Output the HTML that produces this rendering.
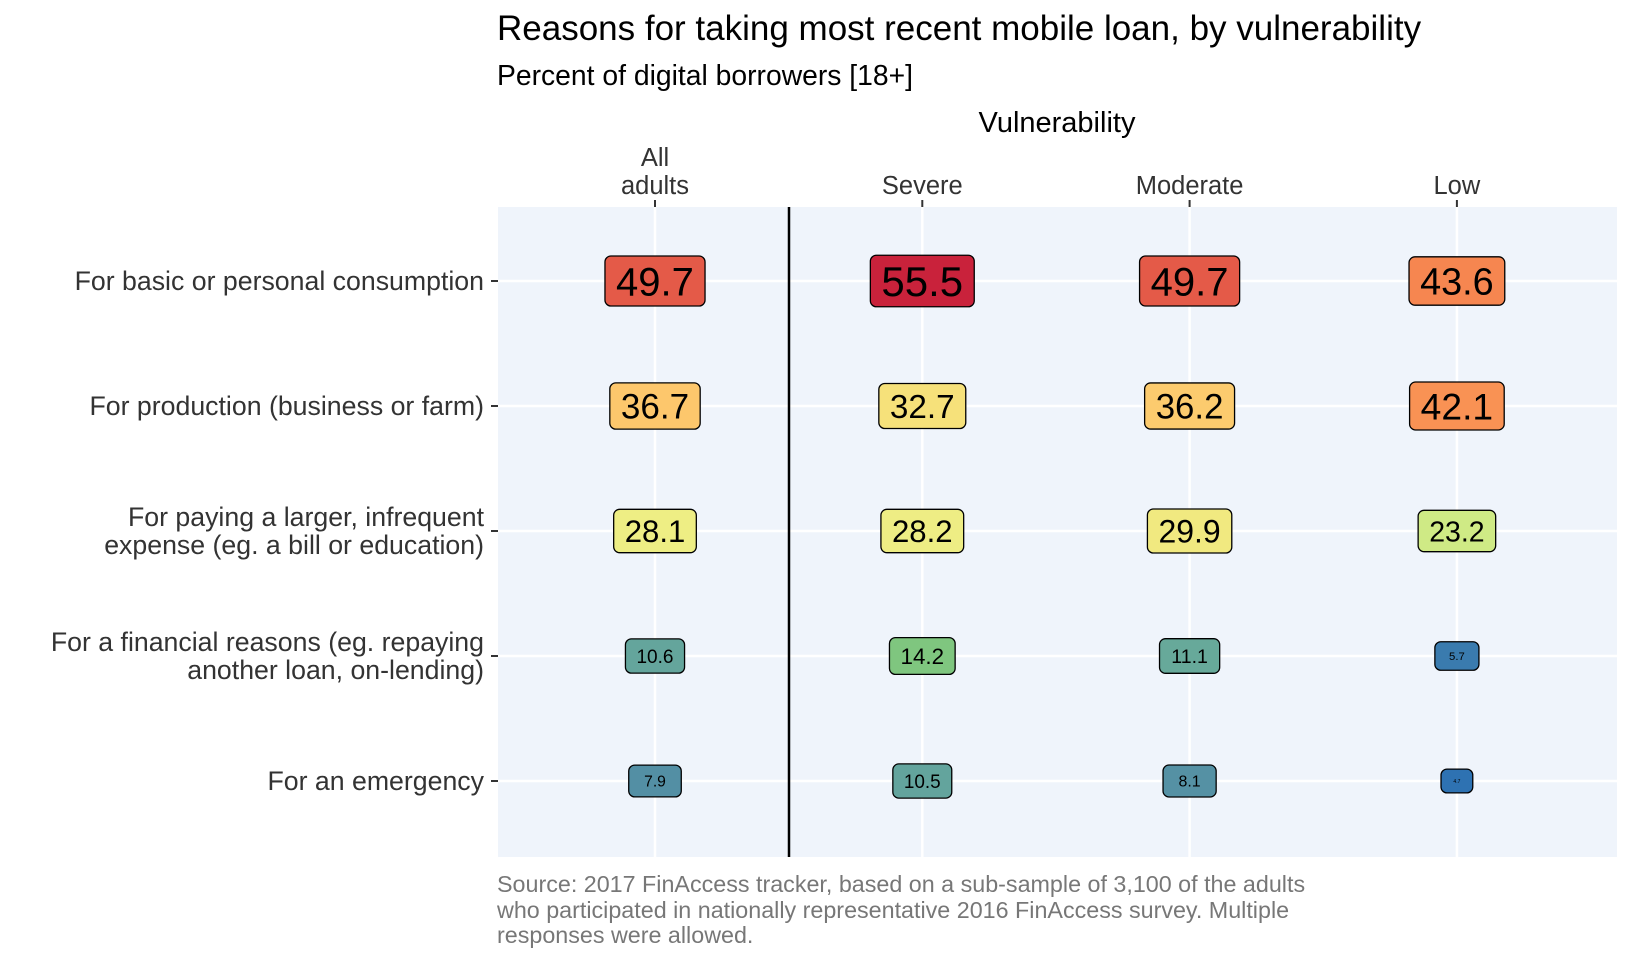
<!DOCTYPE html>
<html><head><meta charset="utf-8"><style>
body{margin:0;background:#fff;}
svg text{font-family:"Liberation Sans",Arial,sans-serif;}
</style></head><body>
<svg width="1632" height="960" viewBox="0 0 1632 960">
<text x="497" y="40" font-size="35" fill="#000">Reasons for taking most recent mobile loan, by vulnerability</text>
<text x="497" y="85" font-size="28.3" fill="#000">Percent of digital borrowers [18+]</text>
<text x="1057" y="132" font-size="29" text-anchor="middle" fill="#000">Vulnerability</text>
<rect x="498" y="207" width="1119" height="650" fill="#eff4fb"/>
<g id="grid"></g>
<g id="axes"></g>
<line x1="789" y1="207" x2="789" y2="857" stroke="#000" stroke-width="2.5"/>
<g id="marks"></g>
<text font-size="23.3" fill="#777">
<tspan x="497" y="892">Source: 2017 FinAccess tracker, based on a sub-sample of 3,100 of the adults</tspan>
<tspan x="497" y="918">who participated in nationally representative 2016 FinAccess survey. Multiple</tspan>
<tspan x="497" y="943">responses were allowed.</tspan>
</text>
</svg>
<script>
const columns=[["All","adults"],["Severe"],["Moderate"],["Low"]];
const reasons=[["For basic or personal consumption"],["For production (business or farm)"],["For paying a larger, infrequent","expense (eg. a bill or education)"],["For a financial reasons (eg. repaying","another loan, on-lending)"],["For an emergency"]];
const allAdults=[49.7,36.7,28.1,10.6,7.9];
const severe=[55.5,32.7,28.2,14.2,10.5];
const moderate=[49.7,36.2,29.9,11.1,8.1];
const low=[43.6,42.1,23.2,5.7,4.7];
const series=[allAdults,severe,moderate,low];
const NS="http://www.w3.org/2000/svg";
const xPos=i=>655+i*267.3;
const yPos=j=>281+j*125;
function mk(t,a,p){const e=document.createElementNS(NS,t);for(const k in a)e.setAttribute(k,a[k]);p.appendChild(e);return e;}
const stops=[[4.7,[46,114,178]],[8,[84,144,164]],[11,[102,168,155]],[14.2,[127,198,127]],[23.2,[207,234,133]],[28,[238,238,132]],[32.7,[246,225,122]],[36.5,[253,201,109]],[42.5,[249,142,82]],[49.7,[228,90,72]],[55.5,[201,34,59]]];
function col(v){for(let i=0;i<stops.length-1;i++){const a=stops[i],b=stops[i+1];if(v<=b[0]){const t=Math.max(0,(v-a[0])/(b[0]-a[0]));return 'rgb('+a[1].map((c,k)=>Math.round(c+(b[1][k]-c)*t)).join(',')+')';}}return 'rgb(201,34,59)';}
const all=series.flat(),vmin=Math.min(...all),vmax=Math.max(...all);
const fsize=v=>5+37*Math.pow((v-vmin)/(vmax-vmin),0.45);
const grid=document.getElementById('grid'),axes=document.getElementById('axes'),marks=document.getElementById('marks');
columns.forEach((c,i)=>{const x=xPos(i);
 let g=mk('line',{x1:x,y1:207,x2:x,y2:857,stroke:'#fff','stroke-width':2.5},grid);
 
 let t=mk('line',{x1:x,y1:200,x2:x,y2:207,stroke:'#333','stroke-width':2},axes);
 
 c.forEach((s,k)=>{const tx=mk('text',{x:x,y:194-(c.length-1-k)*28,'font-size':25.5,'text-anchor':'middle',fill:'#333'},axes);tx.textContent=s;
 });
});
reasons.forEach((r,j)=>{const y=yPos(j);
 let g=mk('line',{x1:498,y1:y,x2:1617,y2:y,stroke:'#fff','stroke-width':2.5},grid);
 
 let t=mk('line',{x1:491,y1:y,x2:498,y2:y,stroke:'#333','stroke-width':2},axes);
 
 const n=r.length;r.forEach((s,k)=>{const tx=mk('text',{x:484,y:y+9+(k-(n-1)/2)*28,'font-size':26.7,'text-anchor':'end',fill:'#333'},axes);tx.textContent=s;
 });
});
series.forEach((vals,i)=>vals.forEach((v,j)=>{
 const x=xPos(i),y=yPos(j),fs=fsize(v);
 const g=mk('g',{},marks);
 
 const w=fs*1.95+22,h=fs*0.75+20;
 mk('rect',{x:x-w/2,y:y-h/2,width:w,height:h,rx:6,fill:col(v),stroke:'#000','stroke-width':1.3},g);
 const tx=mk('text',{x:x,y:y+fs*0.36,'font-size':fs,'text-anchor':'middle',fill:'#000'},g);tx.textContent=v.toFixed(1);
}));
</script>
</body></html>
